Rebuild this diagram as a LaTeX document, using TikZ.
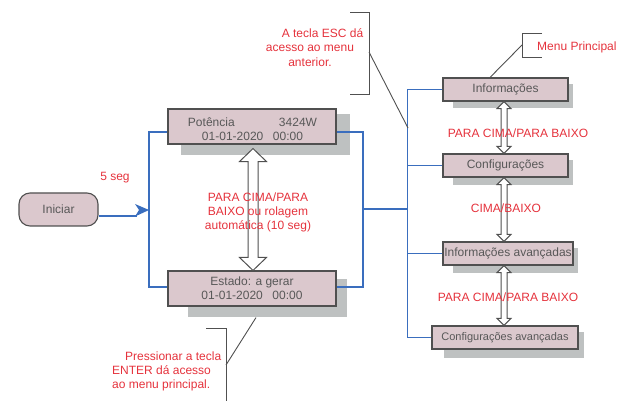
\documentclass[tikz,border=0pt]{standalone}
\usepackage{fontspec}
\setmainfont{Liberation Sans}
\usetikzlibrary{calc}
\definecolor{boxfill}{HTML}{DBC8CD}
\definecolor{boxline}{HTML}{505050}
\definecolor{boxtext}{HTML}{585858}
\definecolor{shade}{HTML}{BEC1C1}
\definecolor{bus}{HTML}{3A6EBE}
\definecolor{notecol}{HTML}{E5323C}

% hollow double-headed arrow between two points:
% #1 top point, #2 bottom point, #3 half shaft width, #4 half head width, #5 head length
\newcommand\drawUpDown[5]{%
  \draw[updown] let \p1=(#1), \p2=(#2) in
    (\x1,\y1) -- (\x1+#4pt,\y1-#5pt) -- (\x1+#3pt,\y1-#5pt) --
    (\x1+#3pt,\y2+#5pt) -- (\x1+#4pt,\y2+#5pt) -- (\x1,\y2) --
    (\x1-#4pt,\y2+#5pt) -- (\x1-#3pt,\y2+#5pt) --
    (\x1-#3pt,\y1-#5pt) -- (\x1-#4pt,\y1-#5pt) -- cycle;}

\begin{document}
\begin{tikzpicture}[x=1pt,y=-1pt,
  box/.style={draw=boxline, line width=1.1pt, fill=boxfill, text=boxtext,
    inner sep=0pt, align=center, font=\fontsize{12}{14}\selectfont},
  shadowbox/.style={fill=shade},
  link/.style={draw=bus, line width=1.1pt},
  notetext/.style={text=notecol, inner sep=0pt, font=\fontsize{12}{14.5}\selectfont},
  bracket/.style={draw=boxline, line width=0.9pt},
  updown/.style={draw=boxline, line width=1pt, fill=white}]
\useasboundingbox (0,0) rectangle (619,401);

% shadows behind the screens and menu entries
\fill[shadowbox] (181,114) rectangle (350,155);
\fill[shadowbox] (188,279) rectangle (347,317);
\fill[shadowbox] (453,84) rectangle (573,108);
\fill[shadowbox] (453,160) rectangle (573,185);
\fill[shadowbox] (453,248) rectangle (578,273);
\fill[shadowbox] (444,332) rectangle (584,358);

% start button
\node[box, rounded corners=11pt, minimum width=79pt, minimum height=33pt]
  (ini) at (58.5,209.5) {Iniciar};

% the two display screens
\node[box, minimum width=168pt, minimum height=35pt] (pot) at (252,126.5) {};
\node[text=boxtext, align=center, font=\fontsize{12}{14}\selectfont, inner sep=0pt]
  (pottxt) at (252.5,129.5) {Potência\hspace{44.3pt}3424W\\01-01-2020\hspace{9.6pt}00:00};
\node[box, minimum width=168pt, minimum height=35pt] (est) at (252,288.5)
  {Estado: a gerar\\01-01-2020\hspace{9.6pt}00:00};

% main menu entries
\node[box, minimum width=125pt, minimum height=23pt] (info) at (505.5,89.5) {Informações};
\node[box, minimum width=125pt, minimum height=23pt] (conf) at (505.5,165.5) {Configurações};
\node[box, minimum width=130pt, minimum height=23pt] (iav) at (508,253.5) {Informações avançadas};
\node[box, minimum width=146pt, minimum height=23pt, font=\fontsize{11}{13}\selectfont]
  (cav) at (505,337.5) {Configurações avançadas};

% start -> screens
\coordinate (lj) at (149,210);
\draw[link] ($(ini.east)+(0,6.5)$) -- (137,216);
\fill[bus] (135,204) -- (lj) -- (135,216.5) -- (139,210) -- cycle;
\draw[link] ($(pot.west)+(0,5.5)$) -- (149,132) -- (149,287) -- ($(est.west)+(0,-1.5)$);

% screens -> main menu
\draw[link] ($(pot.east)+(0,5.5)$) -- (363,132) -- (363,287) -- ($(est.east)+(0,-1.5)$);
\coordinate (mj) at (408,209);
\draw[link] (363,209) -- (mj);
\draw[link] (info.west) -- ++(-35,0) coordinate (bt) |- (cav.west);
\draw[link] (conf.west) -- (conf.west -| bt);
\draw[link] (iav.west) -- (iav.west -| bt);

% scroll arrows
\drawUpDown{$(pot.south)+(1,4)$}{est.north}{5}{13.5}{13}
\drawUpDown{$(info.south)+(-1.5,0)$}{$(conf.north)+(-1.5,0)$}{3}{7}{7}
\drawUpDown{$(conf.south)+(-1.5,0)$}{$(iav.north)+(-4,0)$}{3}{7}{7}
\drawUpDown{$(iav.south)+(-4,0)$}{$(cav.north)+(-1,0)$}{3}{7}{7}

% callout brackets
\coordinate (escbus) at (408,128);
\draw[bracket] (350,12) -- (369,12) -- (369,94) -- (350,94);
\draw[bracket] (369,52) -- (escbus);
\draw[bracket] (542,33) -- (522,33) -- (522,57) -- (542,57);
\draw[bracket] (522,45) -- ($(info.north)+(-15.5,0)$);
\coordinate (enterbot) at (226,401);
\draw[bracket] (206,328) -- (226,328) -- (enterbot);
\draw[bracket] (226,365) -- ($(est.south)+(4,11)$);

% labels
\node[notetext] (fivesec) at (115,178) {5 seg};
\node[notetext, align=center, font=\fontsize{12}{14}\selectfont] (scroll) at (258,212)
  {PARA CIMA/PARA\\BAIXO ou rolagem\\automática (10 seg)};
\node[notetext] (ud1) at (518,133) {PARA CIMA/PARA BAIXO};
\node[notetext] (ud2) at (506,208) {CIMA/BAIXO};
\node[notetext] (ud3) at (508,297) {PARA CIMA/PARA BAIXO};
\node[notetext, align=center] (esc) at (310,47.5)
  {\hspace*{25pt}A tecla ESC dá\\acesso ao menu\\anterior.};
\node[notetext, anchor=west] (mp) at (537,47) {Menu Principal};
\node[notetext, align=left, anchor=west, font=\fontsize{12}{14}\selectfont] (enter) at (112,371)
  {\hspace*{13pt}Pressionar a tecla\\ENTER dá acesso\\ao menu principal.};
\end{tikzpicture}
\end{document}
